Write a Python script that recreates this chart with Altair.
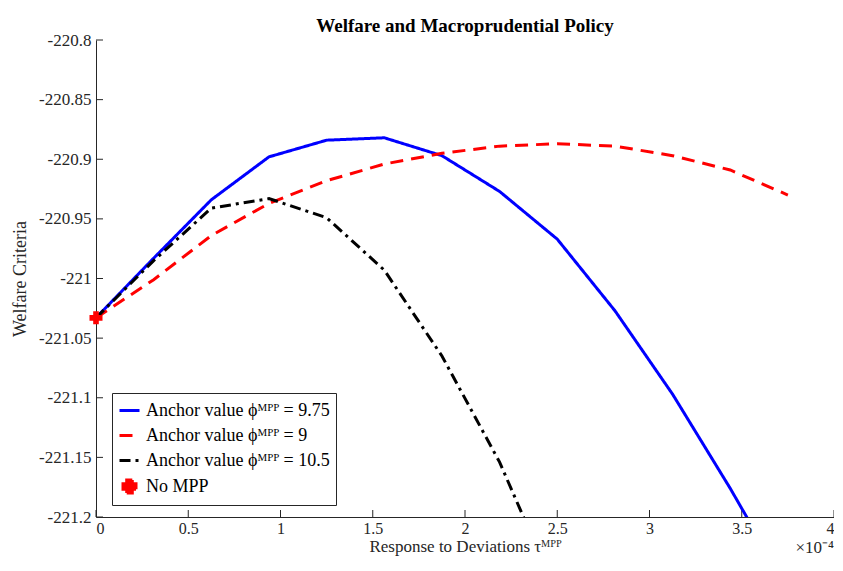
import altair as alt
import pandas as pd

# x in units of 1e-4
x_grid = [0, 0.3125, 0.625, 0.9375, 1.25, 1.5625, 1.875, 2.1875, 2.5, 2.8125, 3.125, 3.4375, 3.75]

blue_vals = [-221.033, -220.983, -220.934, -220.898, -220.884, -220.882, -220.897,
             -220.927, -220.967, -221.027, -221.097, -221.176, -221.26]
red_vals = [-221.033, -221.001, -220.964, -220.937, -220.918, -220.904, -220.895,
            -220.889, -220.887, -220.889, -220.897, -220.909, -220.930]
black_x = [0, 0.3125, 0.625, 0.9375, 1.25, 1.5625, 1.875, 2.1875, 2.5]
black_vals = [-221.033, -220.985, -220.941, -220.933, -220.949, -220.993, -221.065, -221.154, -221.265]

nompp_x = [0]
nompp_vals = [-221.033]

series_names = [
    "Anchor value \u03d5\u1d39\u1d3e\u1d3e = 9.75",
    "Anchor value \u03d5\u1d39\u1d3e\u1d3e = 9",
    "Anchor value \u03d5\u1d39\u1d3e\u1d3e = 10.5",
    "No MPP",
]
series_colors = ["#0000ff", "#ff0000", "#000000", "#ff0000"]
series_dash = [[1, 0], [13, 8], [11, 5, 3, 5], [1, 0]]
PLUS = ("M-0.65,-0.28 L-0.28,-0.28 L-0.28,-0.65 L0.28,-0.65 L0.28,-0.28 L0.65,-0.28 "
        "L0.65,0.28 L0.28,0.28 L0.28,0.65 L-0.28,0.65 L-0.28,0.28 L-0.65,0.28 Z")
series_shapes = ["stroke", "stroke", "stroke", PLUS]

x_ticks = [0, 0.5, 1, 1.5, 2, 2.5, 3, 3.5, 4]
y_ticks = [-220.8, -220.85, -220.9, -220.95, -221, -221.05, -221.1, -221.15, -221.2]

rows = []
for xv, yv in zip(x_grid, blue_vals):
    rows.append({"x": xv, "y": yv, "series": series_names[0], "order": 0})
for xv, yv in zip(x_grid, red_vals):
    rows.append({"x": xv, "y": yv, "series": series_names[1], "order": 1})
for xv, yv in zip(black_x, black_vals):
    rows.append({"x": xv, "y": yv, "series": series_names[2], "order": 2})
lines_df = pd.DataFrame(rows)
pts_df = pd.DataFrame({"x": nompp_x, "y": nompp_vals, "series": [series_names[3]]})
xt_df = pd.DataFrame({"t": x_ticks})
yt_df = pd.DataFrame({"t": y_ticks})

W, H = 738, 477
FONT = "Liberation Serif"
AX = "#262626"

xscale = alt.Scale(domain=[0, 4], nice=False, zero=False)
yscale = alt.Scale(domain=[-221.2, -220.8], nice=False, zero=False)

legend = alt.Legend(
    title=None, orient="none", legendX=16, legendY=353,
    strokeColor=AX, fillColor="white", padding=6, labelFont=FONT, labelFontSize=18,
    labelColor="#000000", symbolSize=400, symbolStrokeWidth=3, rowPadding=4,
    symbolOffset=0, labelOffset=5, labelLimit=400,
)

color = alt.Color("series:N", scale=alt.Scale(domain=series_names, range=series_colors), legend=legend)
dash = alt.StrokeDash("series:N", scale=alt.Scale(domain=series_names, range=series_dash), legend=legend)
shape = alt.Shape("series:N", scale=alt.Scale(domain=series_names, range=series_shapes), legend=legend)

x_axis = alt.Axis(
    values=x_ticks, ticks=False, grid=False, domainColor=AX, domainWidth=1,
    labelFont=FONT, labelFontSize=16, labelColor=AX, labelPadding=3,
    labelExpr="format(datum.value, '~g')",
    title="Response to Deviations \u03c4\u1d39\u1d3e\u1d3e", titleFont=FONT, titleFontSize=17,
    titleFontWeight="normal", titleColor=AX, titlePadding=2,
)
y_axis = alt.Axis(
    values=y_ticks, ticks=False, grid=False, domainColor=AX, domainWidth=1,
    labelFont=FONT, labelFontSize=17, labelColor=AX, labelPadding=5,
    labelExpr="(datum.value < 0 ? '-' : '') + format(abs(datum.value), '.10~g')",
    title="Welfare Criteria", titleFont=FONT, titleFontSize=18,
    titleFontWeight="normal", titleColor=AX, titlePadding=9,
)

lines = alt.Chart(lines_df).mark_line(strokeWidth=3, clip=True).encode(
    x=alt.X("x:Q", scale=xscale, axis=x_axis),
    y=alt.Y("y:Q", scale=yscale, axis=y_axis),
    color=color, strokeDash=dash, detail="series:N", order="order:Q",
)

points = alt.Chart(pts_df).mark_point(filled=True, size=400, opacity=1).encode(
    x=alt.X("x:Q", scale=xscale),
    y=alt.Y("y:Q", scale=yscale),
    color=color, shape=shape,
)

xticks = alt.Chart(xt_df).mark_rule(color=AX, strokeWidth=1).encode(
    x=alt.X("t:Q", scale=xscale), y=alt.value(H), y2=alt.value(H - 7)
)
yticks = alt.Chart(yt_df).mark_rule(color=AX, strokeWidth=1).encode(
    y=alt.Y("t:Q", scale=yscale), x=alt.value(0), x2=alt.value(7)
)

exp_label = alt.Chart(pd.DataFrame({"s": ["\u00d710\u207b\u2074"]})).mark_text(
    font=FONT, fontSize=17, color=AX, align="right", baseline="alphabetic"
).encode(text="s:N", x=alt.value(W), y=alt.value(H + 36))

chart = alt.layer(xticks, yticks, lines, points, exp_label).properties(
    width=W, height=H,
    title=alt.Title("Welfare and Macroprudential Policy", font=FONT, fontSize=19,
                    fontWeight="bold", color="#000000", anchor="middle", offset=1, dy=6),
    autosize=alt.AutoSizeParams(type="none"),
    padding={"left": 88, "top": 32, "right": 0, "bottom": 41},
).configure_view(stroke=None).resolve_scale(color="shared")

chart.save("out.html", embed_options={"renderer": "svg", "actions": False})
